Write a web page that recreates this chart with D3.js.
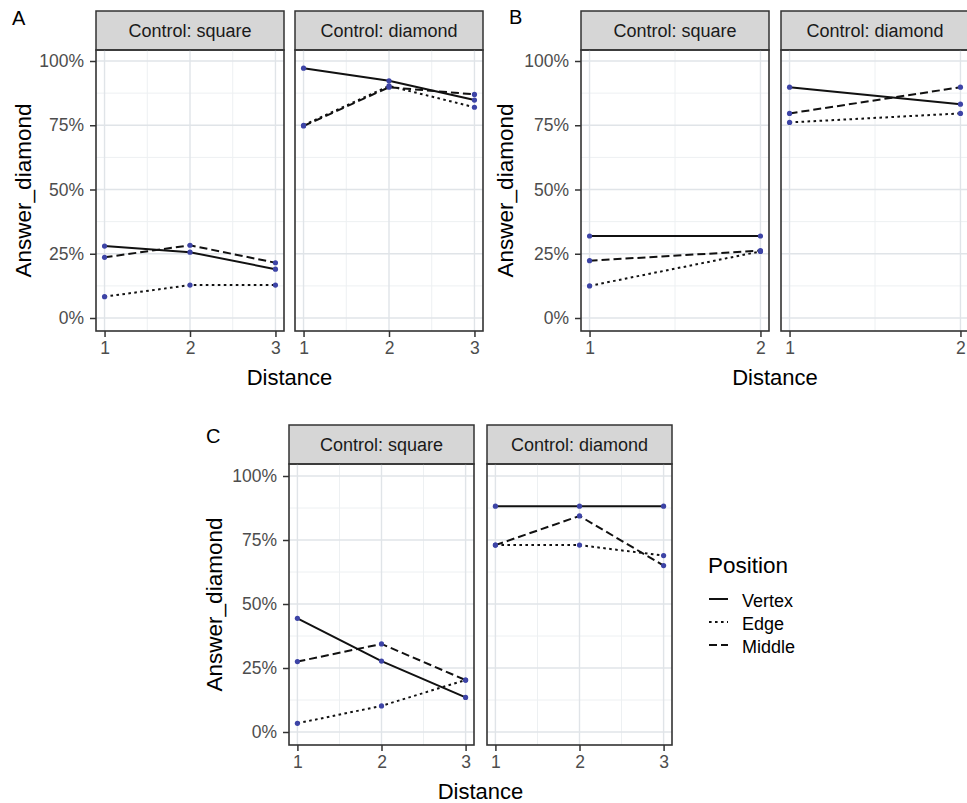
<!DOCTYPE html>
<html><head><meta charset="utf-8">
<script src="https://cdn.jsdelivr.net/npm/d3@7"></script>
<style>body{margin:0;background:#fff}svg{display:block;font-family:"Liberation Sans",Arial,sans-serif}</style>
</head><body>
<svg id="chart" width="967" height="803"></svg>
<script>
// ---------- data ----------
const positions = ["Vertex", "Edge", "Middle"];
const facetLabels = ["Control: square", "Control: diamond"];
const yTicks = [0, 0.25, 0.5, 0.75, 1];
const distancesA = [1, 2, 3];
const distancesB = [1, 2];
const distancesC = [1, 2, 3];

// Panel A
const A_square_vertex  = [0.280, 0.256, 0.190];
const A_square_edge    = [0.083, 0.128, 0.128];
const A_square_middle  = [0.236, 0.283, 0.215];
const A_diamond_vertex = [0.972, 0.923, 0.848];
const A_diamond_edge   = [0.750, 0.903, 0.820];
const A_diamond_middle = [0.747, 0.898, 0.870];
// Panel B
const B_square_vertex  = [0.319, 0.319];
const B_square_edge    = [0.125, 0.259];
const B_square_middle  = [0.223, 0.262];
const B_diamond_vertex = [0.898, 0.832];
const B_diamond_edge   = [0.761, 0.796];
const B_diamond_middle = [0.796, 0.898];
// Panel C
const C_square_vertex  = [0.444, 0.277, 0.135];
const C_square_edge    = [0.034, 0.102, 0.203];
const C_square_middle  = [0.275, 0.344, 0.203];
const C_diamond_vertex = [0.882, 0.882, 0.882];
const C_diamond_edge   = [0.730, 0.730, 0.689];
const C_diamond_middle = [0.730, 0.844, 0.650];

// ---------- styles ----------
const dashes = { Vertex: null, Edge: "2.6,3.4", Middle: "8,4" };
const pointColor = "#3d44a6";
const borderColor = "#333333";
const gridMajor = "#e0e4e8";
const gridMinor = "#edf0f2";
const tickText = "#4d4d4d";

const svg = d3.select("#chart");

function drawPlot(cfg) {
  const g = svg.append("g");
  const n = cfg.distances.length;
  const pad = 0.05 * (n - 1);
  const y = d3.scaleLinear().domain([0, 1]).range([cfg.y0, cfg.y100]);

  cfg.facets.forEach((f, fi) => {
    const x = d3.scaleLinear().domain([1 - pad, n + pad]).range([f.left, f.right]);
    const pw = f.right - f.left;
    // strip
    g.append("rect").attr("x", f.left).attr("y", cfg.stripTop)
      .attr("width", pw).attr("height", cfg.panelTop - cfg.stripTop)
      .attr("fill", "#d6d6d6").attr("stroke", borderColor).attr("stroke-width", 1.5);
    g.append("text").attr("x", (f.left + f.right) / 2).attr("y", (cfg.stripTop + cfg.panelTop) / 2)
      .attr("text-anchor", "middle").attr("dominant-baseline", "central")
      .attr("font-size", 18).attr("fill", "#1a1a1a").text(facetLabels[fi]);

    const clipId = "clip" + cfg.id + fi;
    g.append("clipPath").attr("id", clipId).append("rect")
      .attr("x", f.left).attr("y", cfg.panelTop).attr("width", pw).attr("height", cfg.panelBottom - cfg.panelTop);
    const p = g.append("g").attr("clip-path", `url(#${clipId})`);
    // minor grid
    const yMinor = d3.range(-0.125, 1.2, 0.25);
    p.selectAll(null).data(yMinor).join("line")
      .attr("x1", f.left).attr("x2", f.right).attr("y1", d => y(d)).attr("y2", d => y(d))
      .attr("stroke", gridMinor).attr("stroke-width", 1);
    const xMinor = d3.range(1, n).map(d => d + 0.5);
    p.selectAll(null).data(xMinor).join("line")
      .attr("y1", cfg.panelTop).attr("y2", cfg.panelBottom).attr("x1", d => x(d)).attr("x2", d => x(d))
      .attr("stroke", gridMinor).attr("stroke-width", 1);
    // major grid
    p.selectAll(null).data(yTicks).join("line")
      .attr("x1", f.left).attr("x2", f.right).attr("y1", d => y(d)).attr("y2", d => y(d))
      .attr("stroke", gridMajor).attr("stroke-width", 1.4);
    p.selectAll(null).data(cfg.distances).join("line")
      .attr("y1", cfg.panelTop).attr("y2", cfg.panelBottom).attr("x1", d => x(d)).attr("x2", d => x(d))
      .attr("stroke", gridMajor).attr("stroke-width", 1.4);

    // lines & points
    positions.forEach((pos, pi) => {
      const vals = f.series[pi];
      const pts = vals.map((v, i) => [cfg.distances[i], v]);
      g.append("path").datum(pts)
        .attr("d", d3.line().x(d => x(d[0])).y(d => y(d[1])))
        .attr("fill", "none").attr("stroke", "#111").attr("stroke-width", 2)
        .attr("stroke-dasharray", dashes[pos]);
    });
    positions.forEach((pos, pi) => {
      const vals = f.series[pi];
      g.selectAll(null).data(vals.map((v, i) => [cfg.distances[i], v])).join("circle")
        .attr("cx", d => x(d[0])).attr("cy", d => y(d[1])).attr("r", 2.6).attr("fill", pointColor);
    });

    // border
    g.append("rect").attr("x", f.left).attr("y", cfg.panelTop)
      .attr("width", pw).attr("height", cfg.panelBottom - cfg.panelTop)
      .attr("fill", "none").attr("stroke", borderColor).attr("stroke-width", 1.6);

    // x axis
    const xa = g.append("g").attr("transform", `translate(0,${cfg.panelBottom})`)
      .call(d3.axisBottom(x).tickValues(cfg.distances).tickFormat(d3.format("d")).tickSize(6).tickPadding(5));
    xa.select(".domain").remove();
    xa.selectAll("line").attr("stroke", borderColor).attr("stroke-width", 1.5);
    xa.selectAll("text").attr("font-size", 17.5).attr("fill", tickText).attr("font-family", null);
  });

  // y axis
  const f0 = cfg.facets[0];
  const ya = g.append("g").attr("transform", `translate(${f0.left},0)`)
    .call(d3.axisLeft(y).tickValues(yTicks).tickFormat(d3.format(".0%")).tickSize(6).tickPadding(6));
  ya.select(".domain").remove();
  ya.selectAll("line").attr("stroke", borderColor).attr("stroke-width", 1.5);
  ya.selectAll("text").attr("font-size", 17.5).attr("fill", tickText).attr("font-family", null);

  // titles
  const midY = (cfg.panelTop + cfg.panelBottom) / 2;
  g.append("text").attr("transform", `translate(${cfg.yTitleX},${midY}) rotate(-90)`)
    .attr("text-anchor", "middle").attr("font-size", 22.5).attr("fill", "#000").text("Answer_diamond");
  const lastF = cfg.facets[cfg.facets.length - 1];
  g.append("text").attr("x", (f0.left + lastF.right) / 2).attr("y", cfg.xTitleY)
    .attr("text-anchor", "middle").attr("font-size", 22).attr("fill", "#000").text("Distance");
  g.append("text").attr("x", cfg.tagX).attr("y", cfg.tagY)
    .attr("font-size", 20).attr("fill", "#000").text(cfg.tag);
}

drawPlot({
  id: "A", tag: "A", tagX: 12, tagY: 25,
  distances: distancesA,
  stripTop: 11, panelTop: 50, panelBottom: 331, y0: 318, y100: 61,
  yTitleX: 31, xTitleY: 385,
  facets: [
    { left: 96, right: 284, series: [A_square_vertex, A_square_edge, A_square_middle] },
    { left: 295, right: 483, series: [A_diamond_vertex, A_diamond_edge, A_diamond_middle] }
  ]
});
drawPlot({
  id: "B", tag: "B", tagX: 509, tagY: 24,
  distances: distancesB,
  stripTop: 11, panelTop: 50, panelBottom: 331, y0: 318, y100: 61,
  yTitleX: 513, xTitleY: 385,
  facets: [
    { left: 581, right: 769, series: [B_square_vertex, B_square_edge, B_square_middle] },
    { left: 781, right: 969, series: [B_diamond_vertex, B_diamond_edge, B_diamond_middle] }
  ]
});
drawPlot({
  id: "C", tag: "C", tagX: 206, tagY: 443,
  distances: distancesC,
  stripTop: 425, panelTop: 464, panelBottom: 745, y0: 732, y100: 476,
  yTitleX: 222, xTitleY: 799,
  facets: [
    { left: 289, right: 474, series: [C_square_vertex, C_square_edge, C_square_middle] },
    { left: 487, right: 672, series: [C_diamond_vertex, C_diamond_edge, C_diamond_middle] }
  ]
});

// legend
const lg = svg.append("g");
lg.append("text").attr("x", 708).attr("y", 573).attr("font-size", 22.5).attr("fill", "#000").text("Position");
const legY = d3.scalePoint().domain(positions).range([601, 647]);
positions.forEach(pos => {
  lg.append("line").attr("x1", 709).attr("x2", 728).attr("y1", legY(pos) - 2).attr("y2", legY(pos) - 2)
    .attr("stroke", "#111").attr("stroke-width", 2).attr("stroke-dasharray", dashes[pos]);
  lg.append("text").attr("x", 742).attr("y", legY(pos)).attr("dominant-baseline", "central")
    .attr("font-size", 18).attr("fill", "#000").text(pos);
});
</script>
</body></html>
